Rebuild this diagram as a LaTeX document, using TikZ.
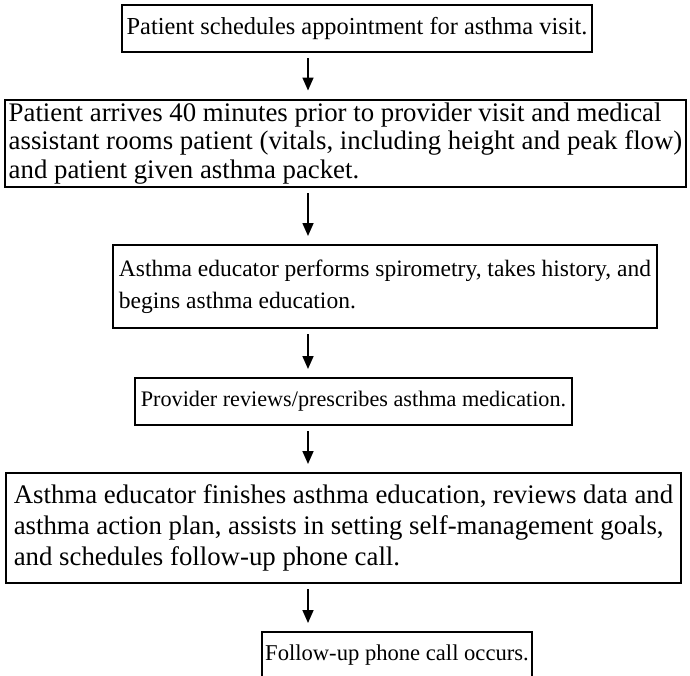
\documentclass[tikz,border=0pt]{standalone}
\usepackage{fontspec}
\setmainfont{Liberation Serif}
\usetikzlibrary{arrows.meta}
\usetikzlibrary{math}

\tikzset{
stepbox/.style={draw, line width=1pt, align=left, inner sep=1.5pt},
flowarrow/.style={-{Triangle[width=5.5pt,length=6.5pt]}, line width=0.8pt, shorten <=2.5pt, shorten >=4pt}
}

\begin{document}
\begin{tikzpicture}[x=0.5pt, y=-0.5pt]
\tikzmath{
\ax=308;
}

\useasboundingbox (0,0) rectangle (690,675);

\coordinate (A) at (\ax,0);

% the steps of the visit
\node[stepbox, minimum width=235pt, minimum height=23.5pt, font=\fontsize{12.2}{14}\selectfont] (sched) at (357,28.5)
{Patient schedules appointment for asthma visit.};
\node[stepbox, minimum width=340.5pt, minimum height=43.5pt, font=\fontsize{13.4}{14.4}\selectfont] (arrive) at (345.5,143.5)
{Patient arrives 40 minutes prior to provider visit and medical\\
assistant rooms patient (vitals, including height and peak flow)\\
and patient given asthma packet.};
\node[stepbox, minimum width=272pt, minimum height=41.5pt, font=\fontsize{11.75}{16}\selectfont] (spiro) at (385,286.5)
{Asthma educator performs spirometry, takes history, and\\
begins asthma education.};
\node[stepbox, minimum width=218.5pt, minimum height=23.5pt, font=\fontsize{11.1}{14}\selectfont] (presc) at (353.5,401.5)
{Provider reviews/prescribes asthma medication.};
\node[stepbox, minimum width=337.5pt, minimum height=55pt, font=\fontsize{13.4}{15.5}\selectfont] (finish) at (343.5,528)
{Asthma educator finishes asthma education, reviews data and\\
asthma action plan, assists in setting self-management goals,\\
and schedules follow-up phone call.};
\node[stepbox, minimum width=135pt, minimum height=23.5pt, font=\fontsize{11.3}{14}\selectfont] (phone) at (397,655.5)
{Follow-up phone call occurs.};

% arrows, all on one vertical line
\draw[flowarrow] (sched.south -| A) -- (arrive.north -| A);
\draw[flowarrow] (arrive.south -| A) -- (spiro.north -| A);
\draw[flowarrow] (spiro.south -| A) -- (presc.north -| A);
\draw[flowarrow] (presc.south -| A) -- (finish.north -| A);
\draw[flowarrow] (finish.south -| A) -- (phone.north -| A);

\end{tikzpicture}
\end{document}
